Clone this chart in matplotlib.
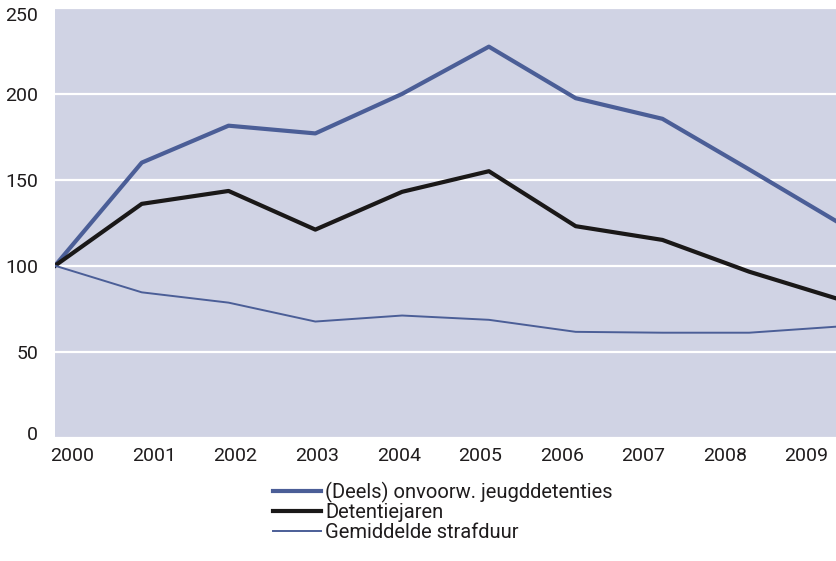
import matplotlib
matplotlib.use('Agg')
import matplotlib.pyplot as plt
import matplotlib.transforms as mtransforms
import numpy as np

plt.rcParams['font.family'] = ['Roboto', 'DejaVu Sans']

# data (index, 2000 = 100)
years = ['2000', '2001', '2002', '2003', '2004', '2005', '2006', '2007', '2008', '2009']
deels = [100, 160, 181.5, 177, 200, 227.5, 197.5, 185.5, 156, 126]
detentiejaren = [100, 136, 143.5, 121, 143, 155, 123, 115, 96.5, 81]
strafduur = [100, 84.5, 78.5, 67.5, 71, 68.5, 61.5, 61, 61, 64.5]

blue = '#4b5e97'
black = '#1a1818'
bg = '#d0d3e4'

fig = plt.figure(figsize=(8.36, 5.61), dpi=100)
ax = fig.add_axes([55 / 836, (561 - 437.5) / 561, 1 - 55 / 836, (437.5 - 8) / 561])
ax.set_facecolor(bg)

x = np.arange(len(years))
ax.plot(x, deels, color=blue, lw=3.0, label='(Deels) onvoorw. jeugddetenties', zorder=3)
ax.plot(x, detentiejaren, color=black, lw=3.0, label='Detentiejaren', zorder=3)
ax.plot(x, strafduur, color=blue, lw=1.4, label='Gemiddelde strafduur', zorder=3)

ax.set_xlim(0, 9)
ax.set_ylim(0, 250)
ax.set_yticks([0, 50, 100, 150, 200, 250])
ax.yaxis.grid(True, color='white', lw=1.6)
ax.set_axisbelow(True)

# category labels sit a bit to the right of the data points, as in the original
ax.set_xticks(0.2 + x * 0.94)
ax.set_xticklabels(years)

for s in ax.spines.values():
    s.set_visible(False)
ax.tick_params(axis='both', length=0, labelsize=14, colors='#1f1c1d')
ax.tick_params(axis='y', pad=12)
ax.tick_params(axis='x', pad=7)

# top and bottom y labels are nudged inward in the original
ylabels = ax.get_yticklabels()
for lab, dy in ((ylabels[0], 4), (ylabels[-1], -6)):
    lab.set_transform(lab.get_transform() +
                      mtransforms.ScaledTranslation(0, dy / 100, fig.dpi_scale_trans))

leg = fig.legend(loc='upper left', bbox_to_anchor=(273 / 836, 1 - 482 / 561),
                 frameon=False, fontsize=14.5, handlelength=2.4, handletextpad=0.2,
                 labelspacing=0.02, borderpad=0, borderaxespad=0)
for t in leg.get_texts():
    t.set_color('#1f1c1d')

plt.savefig('out.png', dpi=100)
